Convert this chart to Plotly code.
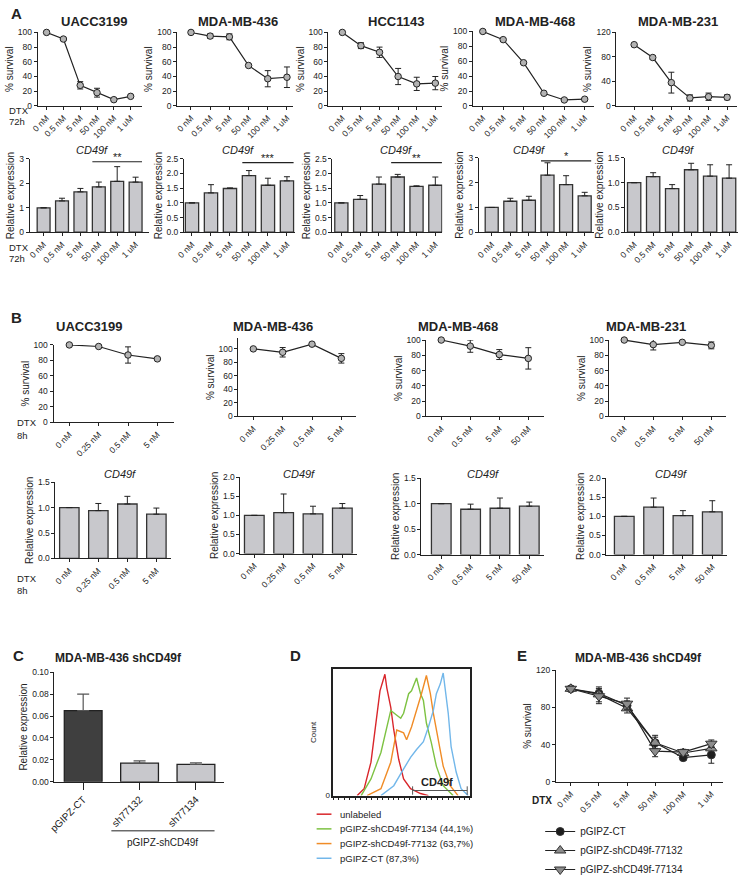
import plotly.graph_objects as go

W, H = 739, 884

# ================= DATA =================
# ---- Panel A : 72h DTX ----
a_doses = ["0 nM", "0.5 nM", "5 nM", "50 nM", "100 nM", "1 uM"]
a_cells = ["UACC3199", "MDA-MB-436", "HCC1143", "MDA-MB-468", "MDA-MB-231"]

a_surv_uacc3199 = [100, 91, 28, 18, 8.5, 13]
a_surv_err_uacc3199 = [0, 2, 5, 6, 1, 1]
a_surv_mb436 = [100, 95, 94, 55, 37, 39]
a_surv_err_mb436 = [0, 3, 4, 1, 11, 14]
a_surv_hcc1143 = [100, 82, 73, 40, 30, 31]
a_surv_err_hcc1143 = [0, 4, 7, 11, 9, 9]
a_surv_mb468 = [100, 89, 58, 17, 8, 9]
a_surv_err_mb468 = [0, 1, 1, 1, 1, 1]
a_surv_mb231 = [100, 79, 38, 13, 15, 14]
a_surv_err_mb231 = [0, 3, 17, 5, 6, 4]

a_expr_uacc3199 = [1.0, 1.28, 1.65, 1.85, 2.08, 2.05]
a_expr_err_uacc3199 = [0, 0.11, 0.14, 0.2, 0.6, 0.2]
a_expr_mb436 = [1.0, 1.34, 1.49, 1.93, 1.6, 1.75]
a_expr_err_mb436 = [0, 0.28, 0.02, 0.17, 0.24, 0.14]
a_expr_hcc1143 = [1.0, 1.12, 1.64, 1.88, 1.56, 1.6]
a_expr_err_hcc1143 = [0, 0.13, 0.24, 0.09, 0.02, 0.28]
a_expr_mb468 = [1.0, 1.25, 1.29, 2.3, 1.92, 1.47]
a_expr_err_mb468 = [0, 0.12, 0.16, 0.5, 0.36, 0.14]
a_expr_mb231 = [1.0, 1.12, 0.88, 1.26, 1.13, 1.09]
a_expr_err_mb231 = [0, 0.08, 0.08, 0.13, 0.23, 0.27]

# significance (start dose, end dose, level, label) per cell line
a_sig_uacc3199 = ("50 nM", "1 uM", 2.88, "**")
a_sig_mb436 = ("50 nM", "1 uM", 2.37, "***")
a_sig_hcc1143 = ("50 nM", "1 uM", 2.37, "**")
a_sig_mb468 = ("50 nM", "1 uM", 2.88, "*")

# ---- Panel B : 8h DTX ----
b_cells = ["UACC3199", "MDA-MB-436", "MDA-MB-468", "MDA-MB-231"]
b_doses_low = ["0 nM", "0.25 nM", "0.5 nM", "5 nM"]
b_doses_high = ["0 nM", "0.5 nM", "5 nM", "50 nM"]

b_surv_uacc3199 = [100, 98, 87, 82]
b_surv_err_uacc3199 = [0, 1, 10.5, 1]
b_surv_mb436 = [100, 95, 107, 86]
b_surv_err_mb436 = [0, 7, 2, 7]
b_surv_mb468 = [100, 92, 81, 76]
b_surv_err_mb468 = [0, 8, 6.5, 14]
b_surv_mb231 = [100, 94, 97, 93]
b_surv_err_mb231 = [0, 7, 1, 4.5]

b_expr_uacc3199 = [1.0, 0.94, 1.07, 0.87]
b_expr_err_uacc3199 = [0, 0.14, 0.15, 0.12]
b_expr_mb436 = [1.0, 1.07, 1.04, 1.19]
b_expr_err_mb436 = [0, 0.49, 0.2, 0.12]
b_expr_mb468 = [1.0, 0.89, 0.91, 0.95]
b_expr_err_mb468 = [0, 0.1, 0.2, 0.08]
b_expr_mb231 = [1.0, 1.24, 1.02, 1.12]
b_expr_err_mb231 = [0, 0.24, 0.13, 0.29]

# ---- Panel C ----
c_groups = ["pGIPZ-CT", "sh77132", "sh77134"]
c_expr = [0.065, 0.017, 0.016]
c_expr_err = [0.015, 0.0022, 0.0014]
c_bar_colors = ["#3f3f3f", "#c8c8cc", "#c8c8cc"]

# ---- Panel D : flow histograms (CD49f intensity channel, relative count) ----
d_names = ["unlabeled", "pGIPZ-shCD49f-77134 (44,1%)",
           "pGIPZ-shCD49f-77132 (63,7%)", "pGIPZ-CT (87,3%)"]
d_colors = ["#d9262b", "#7dc242", "#f08c27", "#72b7ea"]
d_x_unlabeled = [17.4, 22.5, 27.5, 31.2, 34.1, 37.7, 39.1, 42.0, 44.2, 47.8, 51.4, 56.5, 63.8, 69.6]
d_y_unlabeled = [0, 5.4, 26.4, 59.7, 82.9, 96.0, 85.3, 69.8, 51.9, 28.7, 13.2, 5.4, 1.6, 0]
d_x_77134 = [20.3, 27.5, 34.8, 39.1, 42.0, 46.4, 49.3, 51.4, 55.1, 57.2, 60.9, 63.8, 65.9, 68.1, 71.7, 75.4, 80.4, 87.7]
d_y_77134 = [0, 13.2, 34.1, 54.3, 67.4, 63.6, 61.2, 65.1, 80.6, 82.9, 93.0, 80.6, 75.2, 57.4, 41.9, 23.3, 7.8, 0]
d_x_77132 = [24.6, 34.8, 42.0, 46.4, 51.4, 53.6, 57.2, 60.9, 64.5, 68.1, 71.0, 73.2, 76.8, 80.4, 85.5, 91.3]
d_y_77132 = [0, 5.4, 26.4, 51.9, 49.6, 44.2, 54.3, 67.4, 80.6, 95.0, 80.6, 65.1, 44.2, 23.3, 7.8, 0]
d_x_ct = [34.8, 44.2, 50.0, 56.5, 60.9, 65.9, 69.6, 73.2, 75.4, 78.3, 80.4, 81.9, 84.1, 86.2, 89.9, 93.5, 98.6]
d_y_ct = [0, 7.8, 18.6, 30.2, 36.4, 42.6, 54.3, 67.4, 80.6, 88.4, 97.0, 85.3, 65.1, 38.8, 18.6, 5.4, 0]
d_gate = [58, 98]
d_gate_level = 4

# ---- Panel E ----
e_doses = ["0 nM", "0.5 nM", "5 nM", "50 nM", "100 nM", "1 uM"]
e_names = ["pGIPZ-CT", "pGIPZ-shCD49f-77132", "pGIPZ-shCD49f-77134"]
e_surv_ct = [100, 95, 82, 42, 26, 29]
e_surv_err_ct = [0, 5, 5, 6, 3, 9]
e_surv_77132 = [100, 94, 79, 42, 31, 36]
e_surv_err_77132 = [0, 8, 5, 8, 3, 6]
e_surv_77134 = [100, 92, 84, 33, 32, 41]
e_surv_err_77134 = [0, 8, 6, 6, 3, 4]

# ================= STYLE / LAYOUT HELPERS =================
FONT = "Arial, Liberation Sans, Helvetica, sans-serif"
INK = "#222222"
BAR_FILL = "#c8c8cc"
TICKFONT = dict(size=8.5, color=INK, family=FONT)

AXIS_BASE = dict(showline=True, linecolor=INK, linewidth=1, ticks="outside",
                 ticklen=3, tickwidth=1, tickcolor=INK, showgrid=False,
                 zeroline=False, tickfont=TICKFONT, fixedrange=True)

fig = go.Figure()
layout_axes = {}
annotations = []
shapes = []
counter = [0]


def make_axes(xa, xb, yt, yb, xrange, yrange, xopts=None, yopts=None):
    counter[0] += 1
    k = counter[0]
    sfx = "" if k == 1 else str(k)
    xd = dict(AXIS_BASE, domain=[xa / W, xb / W], range=xrange, anchor="y" + sfx)
    yd = dict(AXIS_BASE, domain=[1 - yb / H, 1 - yt / H], range=yrange, anchor="x" + sfx)
    if xopts:
        xd.update(xopts)
    if yopts:
        yd.update(yopts)
    layout_axes["xaxis" + sfx] = xd
    layout_axes["yaxis" + sfx] = yd
    return "x" + sfx, "y" + sfx


def cat_range(xa, xb, c0, cn, n):
    s = (cn - c0) / (n - 1)
    return [(xa - c0) / s, (xb - c0) / s]


def text(t, px, py, size=10, bold=False, italic=False, xanchor="center", color=INK):
    if bold:
        t = "<b>" + t + "</b>"
    if italic:
        t = "<i>" + t + "</i>"
    annotations.append(dict(text=t, x=px / W, y=1 - py / H, xref="paper", yref="paper",
                            xanchor=xanchor, yanchor="middle", showarrow=False, borderpad=0,
                            font=dict(size=size, family=FONT, color=color)))


def survival_panel(labels, mean, err, geo, ymax, dtick):
    xa, xb, c0, cn, yt, yb = geo
    xs, ys = make_axes(
        xa, xb, yt, yb, cat_range(xa, xb, c0, cn, len(labels)), [0, ymax],
        xopts=dict(type="category", tickangle=-45),
        yopts=dict(tickmode="linear", tick0=0, dtick=dtick,
                   title=dict(text="% survival", font=dict(size=10, family=FONT, color=INK), standoff=2)))
    fig.add_trace(go.Scatter(
        x=labels, y=mean, mode="lines+markers", cliponaxis=False,
        error_y=dict(type="data", array=err, color=INK, thickness=1, width=3),
        line=dict(color=INK, width=1.2),
        marker=dict(symbol="circle", size=6.5, color="#b3b3b3", line=dict(color=INK, width=1)),
        xaxis=xs, yaxis=ys, showlegend=False))
    return xs, ys


def expression_panel(labels, mean, err, geo, ymax, dtick, fmt, bw):
    xa, xb, c0, cn, yt, yb = geo
    xs, ys = make_axes(
        xa, xb, yt, yb, cat_range(xa, xb, c0, cn, len(labels)), [0, ymax],
        xopts=dict(type="category", tickangle=-45),
        yopts=dict(tickmode="linear", tick0=0, dtick=dtick, tickformat=fmt,
                   title=dict(text="Relative expression", font=dict(size=10, family=FONT, color=INK), standoff=2)))
    fig.add_trace(go.Bar(
        x=labels, y=mean, width=bw, cliponaxis=False,
        marker=dict(color=BAR_FILL, line=dict(color="#333333", width=1.3)),
        error_y=dict(type="data", symmetric=False, array=err, arrayminus=[0] * len(err),
                     color=INK, thickness=1, width=3),
        xaxis=xs, yaxis=ys, showlegend=False))
    return xs, ys


def significance(xs, ys, labels, sig, bw):
    start, end, level, label = sig
    i0 = labels.index(start) - bw / 2
    i1 = labels.index(end) + bw / 2
    shapes.append(dict(type="line", xref=xs, yref=ys, x0=i0, x1=i1, y0=level, y1=level,
                       line=dict(color=INK, width=1.2)))
    annotations.append(dict(text=label, x=(i0 + i1) / 2, y=level, xref=xs, yref=ys,
                            xanchor="center", yanchor="bottom", showarrow=False, yshift=-3,
                            font=dict(size=11, family=FONT, color=INK)))


# ================= PANEL A =================
text("A", 2, 9, size=15, bold=True, xanchor="left")
a_surv = [(a_surv_uacc3199, a_surv_err_uacc3199), (a_surv_mb436, a_surv_err_mb436),
          (a_surv_hcc1143, a_surv_err_hcc1143), (a_surv_mb468, a_surv_err_mb468),
          (a_surv_mb231, a_surv_err_mb231)]
a_line_geo = [(30, 135, 39, 124, 28, 103), (171, 288, 185, 282, 28, 103),
              (324, 439, 338, 432, 28, 103), (470, 592, 480, 583, 27, 103),
              (615, 737, 633, 727, 28, 103)]
a_line_ymax = [100, 100, 100, 100, 120]
a_line_dtick = [20, 20, 20, 20, 40]
a_title_x = [87, 233, 392, 533, 677]
for i in range(5):
    survival_panel(a_doses, a_surv[i][0], a_surv[i][1], a_line_geo[i], a_line_ymax[i], a_line_dtick[i])
    text(a_cells[i], a_title_x[i], 17, size=13, bold=True)
text("DTX", 0, 108, size=9.5, xanchor="left")
text("72h", 0, 119, size=9.5, xanchor="left")

a_expr = [(a_expr_uacc3199, a_expr_err_uacc3199), (a_expr_mb436, a_expr_err_mb436),
          (a_expr_hcc1143, a_expr_err_hcc1143), (a_expr_mb468, a_expr_err_mb468),
          (a_expr_mb231, a_expr_err_mb231)]
a_bar_geo = [(22, 143, 36, 129, 157, 232), (178, 290, 186, 282, 157, 232),
             (328, 439, 337, 432, 157, 232), (476, 592, 489, 583, 156, 232),
             (624, 738, 633, 729, 156, 232)]
a_bar_ymax = [3, 2.5, 2.5, 3, 1.5]
a_bar_dtick = [1, 0.5, 0.5, 1, 0.5]
a_bar_fmt = [".0f", ".1f", ".1f", ".0f", ".1f"]
a_sigs = [a_sig_uacc3199, a_sig_mb436, a_sig_hcc1143, a_sig_mb468, None]
a_cd_x = [85, 233, 392, 527, 677]
for i in range(5):
    xs, ys = expression_panel(a_doses, a_expr[i][0], a_expr[i][1], a_bar_geo[i],
                              a_bar_ymax[i], a_bar_dtick[i], a_bar_fmt[i], 0.7)
    if a_sigs[i]:
        significance(xs, ys, a_doses, a_sigs[i], 0.7)
    text("CD49f", a_cd_x[i], 148, size=11, italic=True)
text("DTX", 0, 248, size=9.5, xanchor="left")
text("72h", 0, 259, size=9.5, xanchor="left")

# ================= PANEL B =================
text("B", 2, 319, size=15, bold=True, xanchor="left")
b_surv = [(b_doses_low, b_surv_uacc3199, b_surv_err_uacc3199),
          (b_doses_low, b_surv_mb436, b_surv_err_mb436),
          (b_doses_high, b_surv_mb468, b_surv_err_mb468),
          (b_doses_high, b_surv_mb231, b_surv_err_mb231)]
b_line_geo = [(46, 168, 62, 151, 347, 426), (233, 352, 248, 337, 340, 420),
              (423, 542, 438, 526, 342, 420), (608, 726, 623, 711, 342, 420)]
b_line_ymax = [100, 116, 100, 100]
b_title_x = [82, 268, 455, 645]
for i in range(4):
    survival_panel(b_surv[i][0], b_surv[i][1], b_surv[i][2], b_line_geo[i], b_line_ymax[i], 20)
    text(b_cells[i], b_title_x[i], 328, size=13, bold=True)
text("DTX", 8, 426, size=9.5, xanchor="left")
text("8h", 8, 439, size=9.5, xanchor="left")

b_expr = [(b_doses_low, b_expr_uacc3199, b_expr_err_uacc3199),
          (b_doses_low, b_expr_mb436, b_expr_err_mb436),
          (b_doses_high, b_expr_mb468, b_expr_err_mb468),
          (b_doses_high, b_expr_mb231, b_expr_err_mb231)]
b_bar_geo = [(48, 165, 62, 150, 487, 565), (235, 353, 249, 338, 482, 560),
             (418, 542, 438, 527, 483, 561), (605, 727, 623, 712, 483, 561)]
b_bar_ymax = [1.5, 2.0, 1.5, 2.0]
b_cd_x = [113, 294, 480, 670]
for i in range(4):
    expression_panel(b_expr[i][0], b_expr[i][1], b_expr[i][2], b_bar_geo[i],
                     b_bar_ymax[i], 0.5, ".1f", 0.67)
    text("CD49f", b_cd_x[i], 479, size=11, italic=True)
text("DTX", 8, 585, size=9.5, xanchor="left")
text("8h", 8, 598, size=9.5, xanchor="left")

# ================= PANEL C =================
text("C", 4, 664, size=15, bold=True, xanchor="left")
text("MDA-MB-436 shCD49f", 112, 667, size=12, bold=True)
cx, cy = make_axes(47, 218, 681, 793, cat_range(47, 218, 76, 190, 3), [0, 0.10],
                   xopts=dict(type="category", tickangle=-45, ticklen=7,
                              tickfont=dict(size=10, color=INK, family=FONT)),
                   yopts=dict(tickmode="linear", tick0=0, dtick=0.02, tickformat=".2f",
                              title=dict(text="Relative expression",
                                         font=dict(size=10, family=FONT, color=INK), standoff=2)))
fig.add_trace(go.Bar(
    x=c_groups, y=c_expr, width=0.67, cliponaxis=False,
    marker=dict(color=c_bar_colors, line=dict(color="#222222", width=1.3)),
    error_y=dict(type="data", symmetric=False, array=c_expr_err, arrayminus=[0] * 3,
                 color="#555555", thickness=1.2, width=6),
    xaxis=cx, yaxis=cy, showlegend=False))
i_a = c_groups.index("sh77132")
i_b = c_groups.index("sh77134")
shapes.append(dict(type="line", xref=cx, yref="paper", x0=i_a - 0.5, x1=i_b + 0.33,
                   y0=1 - 843 / H, y1=1 - 843 / H, line=dict(color=INK, width=1)))
annotations.append(dict(text="pGIPZ-shCD49f", x=(i_a - 0.5 + i_b + 0.33) / 2, y=1 - 855 / H,
                        xref=cx, yref="paper", showarrow=False, xanchor="center", yanchor="middle",
                        font=dict(size=10, family=FONT, color=INK)))

# ================= PANEL D =================
text("D", 284, 664, size=15, bold=True, xanchor="left")
dx, dy = make_axes(329, 467, 678, 807, [0, 100], [0, 100],
                   xopts=dict(mirror=True, linewidth=2, showticklabels=False, ticks="outside",
                              ticklen=2, tickmode="linear", tick0=0, dtick=4),
                   yopts=dict(mirror=True, linewidth=2, tickmode="array", tickvals=[0],
                              ticktext=["0"], ticks="", tickfont=dict(size=8, color=INK, family=FONT),
                              title=dict(text="Count", font=dict(size=8, family=FONT, color=INK),
                                         standoff=8)))
d_xs = [d_x_unlabeled, d_x_77134, d_x_77132, d_x_ct]
d_ys = [d_y_unlabeled, d_y_77134, d_y_77132, d_y_ct]
for i in range(4):
    fig.add_trace(go.Scatter(x=d_xs[i], y=d_ys[i], mode="lines", name=d_names[i],
                             line=dict(color=d_colors[i], width=1.4), cliponaxis=True,
                             xaxis=dx, yaxis=dy, showlegend=False))
    # compact legend rows (key line + label)
    ly = 1 - (826 + 15 * i) / H
    shapes.append(dict(type="line", xref="paper", yref="paper", x0=312 / W, x1=327 / W,
                       y0=ly, y1=ly, line=dict(color=d_colors[i], width=1.5)))
    annotations.append(dict(text=d_names[i], x=335 / W, y=ly, xref="paper", yref="paper",
                            xanchor="left", yanchor="middle", showarrow=False, borderpad=0,
                            font=dict(size=9.5, family=FONT, color=INK)))
fig.add_trace(go.Scatter(x=d_gate, y=[d_gate_level] * 2, mode="lines+markers",
                         line=dict(color="#555555", width=1),
                         marker=dict(symbol="line-ns-open", size=6, line=dict(color="#555555", width=1)),
                         xaxis=dx, yaxis=dy, showlegend=False))
annotations.append(dict(text="<b>CD49f</b>", x=sum(d_gate) / 2 - 2, y=d_gate_level, xref=dx, yref=dy,
                        xanchor="center", yanchor="bottom", showarrow=False, yshift=1,
                        font=dict(size=11, family=FONT, color=INK)))

# ================= PANEL E =================
text("E", 514, 664, size=15, bold=True, xanchor="left")
text("MDA-MB-436 shCD49f", 637, 667, size=12, bold=True)
ex, ey = make_axes(554, 723, 679, 793, cat_range(554, 723, 569, 711, 6), [0, 120],
                   xopts=dict(type="category", tickangle=-45),
                   yopts=dict(tickmode="linear", tick0=0, dtick=40,
                              title=dict(text="% survival", font=dict(size=10, family=FONT, color=INK),
                                         standoff=2)))
e_means = [e_surv_ct, e_surv_77132, e_surv_77134]
e_errs = [e_surv_err_ct, e_surv_err_77132, e_surv_err_77134]
e_symbols = ["circle", "triangle-up", "triangle-down"]
e_fill = ["#1e1e1e", "#8c8c8c", "#8c8c8c"]
e_sizes = [8, 10, 10]
for i in range(3):
    fig.add_trace(go.Scatter(
        x=e_doses, y=e_means[i], name=e_names[i], mode="lines+markers", cliponaxis=False,
        error_y=dict(type="data", array=e_errs[i], color=INK, thickness=1, width=3),
        line=dict(color=INK, width=1.2),
        marker=dict(symbol=e_symbols[i], size=e_sizes[i], color=e_fill[i],
                    line=dict(color="#333333", width=1)),
        xaxis=ex, yaxis=ey, legend="legend2"))
text("DTX", 540, 812, size=10, bold=True)

fig.update_layout(
    width=W, height=H, margin=dict(l=0, r=0, t=0, b=0),
    paper_bgcolor="white", plot_bgcolor="rgba(0,0,0,0)",
    font=dict(family=FONT, color=INK, size=10),
    annotations=annotations, shapes=shapes,
    legend2=dict(x=538 / W, y=1 - 829 / H, xanchor="left", yanchor="top",
                 font=dict(size=10, family=FONT, color=INK), bgcolor="rgba(0,0,0,0)",
                 tracegroupgap=2, itemwidth=30),
    **layout_axes)

fig.write_html("out.html", config={"displayModeBar": False},
               post_script="document.body.style.margin='0px';")
